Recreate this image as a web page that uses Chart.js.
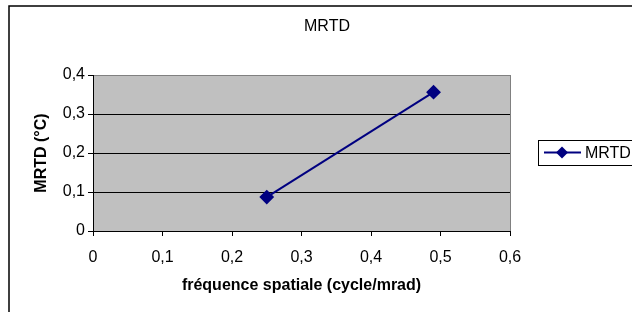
<!DOCTYPE html>
<html>
<head>
<meta charset="utf-8">
<script src="https://cdn.jsdelivr.net/npm/chart.js@4/dist/chart.umd.min.js"></script>
<style>
  body { margin: 0; background: #fff; }
  #wrap { width: 632px; height: 312px; }
</style>
</head>
<body>
<div id="wrap"><canvas id="graphe" width="632" height="312"></canvas></div>
<script>
// données
const frequences = [0.25, 0.49];
const mrtd = [0.087, 0.356];
const ticksX = ["0", "0,1", "0,2", "0,3", "0,4", "0,5", "0,6"];
const ticksY = ["0", "0,1", "0,2", "0,3", "0,4"];

const police = "'Liberation Sans', Arial, sans-serif";
const bleu = "#000080";

// fond, cadre, titre et légende façon Excel
const decor = {
  id: "decor",
  beforeDraw(chart) {
    const ctx = chart.ctx;
    const zone = chart.chartArea;
    ctx.save();
    ctx.fillStyle = "#fff";
    ctx.fillRect(0, 0, chart.width, chart.height);
    ctx.strokeStyle = "#000";
    ctx.lineWidth = 1.5;
    ctx.strokeRect(9, 6, 700, 400);
    ctx.fillStyle = "#c0c0c0";
    ctx.fillRect(zone.left, zone.top, zone.right - zone.left, zone.bottom - zone.top);
    ctx.restore();
  },
  afterDraw(chart) {
    const ctx = chart.ctx;
    const zone = chart.chartArea;
    ctx.save();
    // bord droit gris
    ctx.strokeStyle = "#808080";
    ctx.lineWidth = 1;
    ctx.beginPath();
    ctx.moveTo(zone.right + 0.5, zone.top);
    ctx.lineTo(zone.right + 0.5, zone.bottom);
    ctx.stroke();

    // titre
    ctx.fillStyle = "#000";
    ctx.font = "16px " + police;
    ctx.textAlign = "center";
    ctx.textBaseline = "middle";
    ctx.fillText("MRTD", 327, 27);

    // légende
    ctx.strokeStyle = "#000";
    ctx.lineWidth = 1;
    ctx.strokeRect(538.5, 140.5, 120, 25);
    const y = 152.5;
    ctx.strokeStyle = bleu;
    ctx.lineWidth = 2;
    ctx.beginPath();
    ctx.moveTo(544, y);
    ctx.lineTo(581, y);
    ctx.stroke();
    ctx.fillStyle = bleu;
    ctx.beginPath();
    ctx.moveTo(562, y - 6);
    ctx.lineTo(568, y);
    ctx.lineTo(562, y + 6);
    ctx.lineTo(556, y);
    ctx.closePath();
    ctx.fill();
    ctx.fillStyle = "#000";
    ctx.font = "16px " + police;
    ctx.textAlign = "left";
    ctx.fillText(chart.data.datasets[0].label, 585, y + 1);
    ctx.restore();
  }
};

new Chart(document.getElementById("graphe"), {
  type: "line",
  data: {
    datasets: [
      {
        label: "MRTD",
        data: frequences.map((f, i) => ({ x: f, y: mrtd[i] })),
        borderColor: bleu,
        backgroundColor: bleu,
        borderWidth: 2,
        pointStyle: "rectRot",
        pointRadius: 6,
        pointBackgroundColor: bleu,
        pointBorderColor: bleu,
        tension: 0
      }
    ]
  },
  options: {
    responsive: false,
    animation: false,
    layout: { padding: { top: 75, right: 122, left: 0, bottom: 0 } },
    plugins: {
      legend: { display: false },
      title: { display: false },
      tooltip: { enabled: false }
    },
    scales: {
      x: {
        type: "linear",
        min: 0,
        max: 0.6,
        afterFit(scale) { scale.height = 81; },
        ticks: {
          stepSize: 0.1,
          color: "#000",
          font: { family: police, size: 16 },
          padding: 12,
          maxRotation: 0,
          callback: (v, i) => ticksX[i]
        },
        grid: { drawOnChartArea: false, drawTicks: true, tickLength: 5, tickColor: "#000" },
        border: { display: true, color: "#000", width: 1 },
        title: {
          display: true,
          text: "fréquence spatiale (cycle/mrad)",
          color: "#000",
          font: { family: police, size: 16, weight: "bold" },
          padding: 17
        }
      },
      y: {
        type: "linear",
        min: 0,
        max: 0.4,
        afterFit(scale) { scale.width = 93; },
        ticks: {
          stepSize: 0.1,
          color: "#000",
          font: { family: police, size: 16 },
          padding: 3,
          callback: (v, i) => ticksY[i]
        },
        grid: {
          color: (c) => (c.index === ticksY.length - 1 ? "#808080" : "#000"),
          tickColor: "#000",
          tickLength: 5,
          lineWidth: 1
        },
        border: { display: true, color: "#000", width: 1 },
        title: {
          display: true,
          text: "MRTD (°C)",
          color: "#000",
          font: { family: police, size: 16, weight: "bold" },
          padding: 32
        }
      }
    }
  },
  plugins: [decor]
});
</script>
</body>
</html>
